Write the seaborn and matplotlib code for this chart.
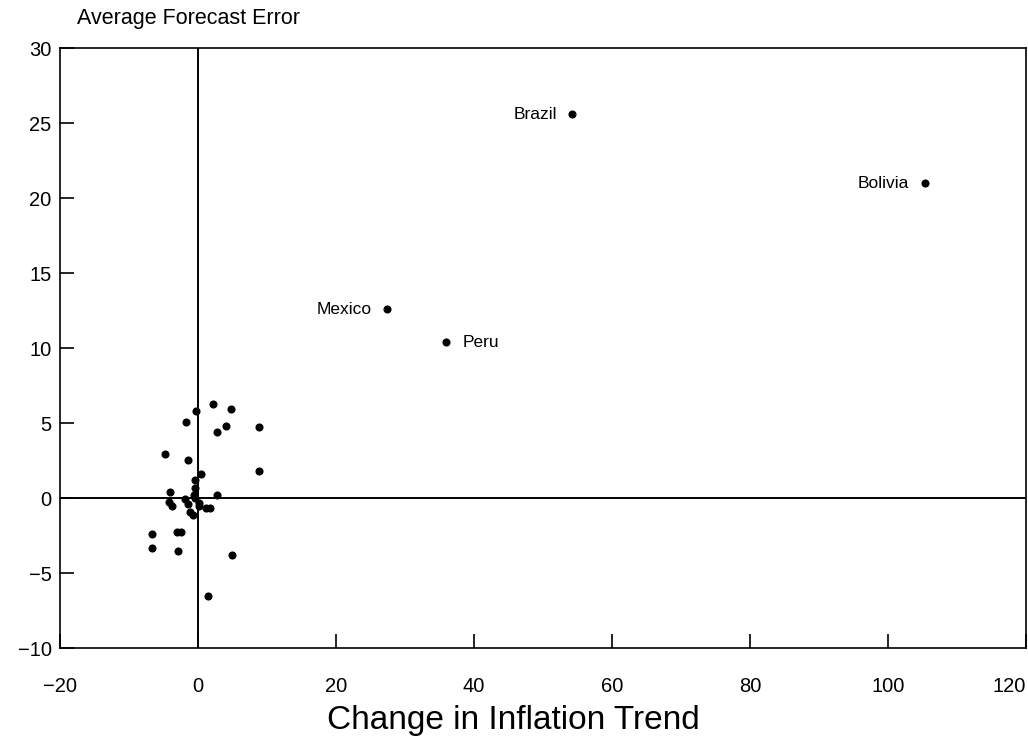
import matplotlib
matplotlib.use("Agg")
import matplotlib.pyplot as plt
import seaborn as sns
import pandas as pd

# change in inflation trend (x) vs average forecast error (y)
infl_change = [2.2, 4.8, -0.3, -1.75, 4.0, 2.8, 8.9, -4.8, -1.5, 8.8,
               0.4, -0.5, -0.4, -4.0, 2.7, -0.6, -4.2, -3.7, -1.9, -1.4,
               -1.1, -0.7, 0.1, 1.2, 1.8, -0.4, 0.2,
               -6.7, -3.0, -2.4, -6.7, -2.9, 4.9, 1.5]
fc_error = [6.27, 5.93, 5.82, 5.07, 4.82, 4.4, 4.75, 2.95, 2.56, 1.8,
            1.6, 1.2, 0.7, 0.38, 0.2, 0.2, -0.24, -0.53, -0.09, -0.4,
            -0.9, -1.13, -0.53, -0.64, -0.64, 0.0, -0.3,
            -2.4, -2.24, -2.24, -3.3, -3.5, -3.8, -6.5]

label_names = ["Brazil", "Bolivia", "Mexico", "Peru"]
label_x = [54.2, 105.3, 27.4, 35.9]
label_y = [25.6, 21.0, 12.6, 10.4]

df = pd.DataFrame({"x": infl_change + label_x, "y": fc_error + label_y})

sns.set_style("white")
plt.rcParams["font.family"] = ["Liberation Sans", "DejaVu Sans"]
plt.rcParams["text.color"] = "black"

fig = plt.figure(figsize=(10.28, 7.4), dpi=100)
ax = fig.add_axes([0.0584, 0.1243, 0.9396, 0.8108])

ax.axvline(0, color="black", lw=1.4, zorder=1)
ax.axhline(0, color="black", lw=1.4, zorder=1)
sns.scatterplot(data=df, x="x", y="y", ax=ax, color="black", s=34,
                marker="o", edgecolor="black", linewidth=0, zorder=3)

# labels: left of the point except Peru
offsets = {"Brazil": (-11, "right"), "Bolivia": (-11, "right"),
           "Mexico": (-11, "right"), "Peru": (12, "left")}
for name, lx, ly in zip(label_names, label_x, label_y):
    dx, ha = offsets[name]
    ax.annotate(name, (lx, ly), xytext=(dx, 0), textcoords="offset points",
                ha=ha, va="center", fontsize=12.5, color="black")

ax.set_xlim(-20, 120)
ax.set_ylim(-10, 30)
ax.set_xticks(range(-20, 121, 20))
ax.set_yticks(range(-10, 31, 5))
ax.tick_params(axis="both", direction="in", length=10, width=1.2,
               labelsize=14.5, colors="black", labelcolor="black",
               bottom=True, left=True)
ax.tick_params(axis="y", pad=6)
ax.tick_params(axis="x", pad=21)
ax.get_xticklabels()[-1].set_horizontalalignment("right")
for sp in ax.spines.values():
    sp.set_color("black")
    sp.set_linewidth(1.2)

ax.set_xlabel("")
ax.set_ylabel("")
fig.text(0.499, 0.027, "Change in Inflation Trend", fontsize=24,
         ha="center", va="center", color="black")
fig.text(0.075, 0.975, "Average Forecast Error", fontsize=15.5,
         ha="left", va="center", color="black")

fig.savefig("out.png", dpi=100)
